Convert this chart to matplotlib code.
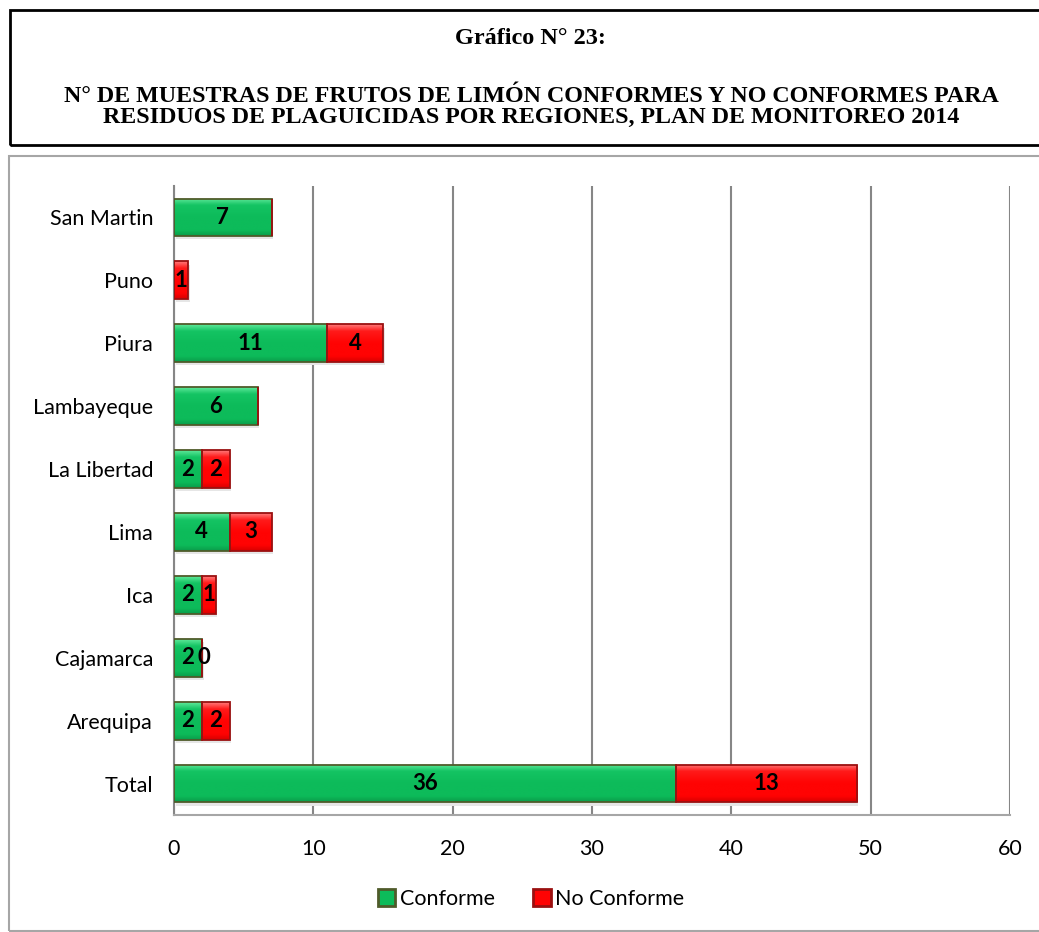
import numpy as np
import matplotlib.pyplot as plt
from matplotlib.patches import Rectangle, Patch
from matplotlib.colors import LinearSegmentedColormap

# data (top to bottom as in the chart)
regions = ["San Martin", "Puno", "Piura", "Lambayeque", "La Libertad",
           "Lima", "Ica", "Cajamarca", "Arequipa", "Total"]
conforme = [7, None, 11, 6, 2, 4, 2, 2, 2, 36]
no_conforme = [None, 1, 4, None, 2, 3, 1, 0, 2, 13]
xticks = [0, 10, 20, 30, 40, 50, 60]

title1 = "Gráfico N° 23:"
title2 = ("N° DE MUESTRAS DE FRUTOS DE LIMÓN CONFORMES Y NO CONFORMES PARA\n"
          "RESIDUOS DE PLAGUICIDAS POR REGIONES, PLAN DE MONITOREO 2014")

W, H = 1039, 932
fig = plt.figure(figsize=(W / 100, H / 100), dpi=100)
lab_font = "Lato"

def fx(px):
    return px / W

def fy(py):
    return 1 - py / H

# title box
fig.patches.append(Rectangle((fx(10), fy(145)), fx(1040 - 10), (145 - 10) / H,
                             transform=fig.transFigure, fill=False,
                             edgecolor="black", linewidth=2))
fig.text(fx(530), fy(38), title1, ha="center", va="center", family="Liberation Serif",
         weight="bold", fontsize=17.5)
fig.text(fx(531), fy(107), title2, ha="center", va="center", family="Liberation Serif",
         weight="bold", fontsize=17.3, linespacing=1.0)

# chart box
fig.patches.append(Rectangle((fx(9), fy(931)), fx(1040 - 9), (931 - 156) / H,
                             transform=fig.transFigure, fill=False,
                             edgecolor="#a6a6a6", linewidth=1.5))

ax = fig.add_axes([fx(174), fy(815), fx(1010 - 174), (815 - 186) / H])

y = np.arange(len(regions))
c_vals = np.array([v if v is not None else 0 for v in conforme], dtype=float)
n_vals = np.array([v if v is not None else 0 for v in no_conforme], dtype=float)

green = "#0dbb5a"
red = "#ff0303"
g_edge = "#4f5b2a"
r_edge = "#9a1010"
h = 0.6

# soft shadows
ax.barh(y + 0.05, c_vals + n_vals, height=h, left=0.12, color="#e6e6e6",
        zorder=2, linewidth=0)
gbars = ax.barh(y, c_vals, height=h, color=green, linewidth=0, zorder=3)
rbars = ax.barh(y, n_vals, height=h, left=c_vals, color=red, linewidth=0, zorder=3)

# bevel-like vertical shading inside each bar
gmap = LinearSegmentedColormap.from_list(
    "g", [(0, "#5fe89a"), (0.18, "#14c463"), (0.5, green), (0.85, green), (1, "#0a9c4a")])
rmap = LinearSegmentedColormap.from_list(
    "r", [(0, "#ff7a7a"), (0.18, "#ff1a1a"), (0.5, red), (0.85, red), (1, "#d80000")])
grad = np.linspace(0, 1, 64).reshape(-1, 1)
for bars, cmap in [(gbars, gmap), (rbars, rmap)]:
    for b in bars:
        if b.get_width() <= 0:
            continue
        x0, y0 = b.get_x(), b.get_y()
        im = ax.imshow(grad, extent=(x0, x0 + b.get_width(), y0 + b.get_height(), y0),
                       cmap=cmap, aspect="auto", origin="upper", zorder=3.5,
                       interpolation="bilinear")
        im.set_clip_path(b)

ax.barh(y, c_vals, height=h, fill=False, edgecolor=g_edge, linewidth=1.3, zorder=4)
ax.barh(y, n_vals, height=h, left=c_vals, fill=False, edgecolor=r_edge,
        linewidth=1.3, zorder=4)

for i in range(len(regions)):
    if conforme[i] is not None:
        ax.text(c_vals[i] / 2, y[i], str(conforme[i]), ha="center", va="center",
                fontsize=16, weight="bold", family=lab_font, zorder=5)
    if no_conforme[i] is not None:
        ax.text(c_vals[i] + n_vals[i] / 2 + (0.15 if n_vals[i] == 0 else 0), y[i],
                str(no_conforme[i]), ha="center", va="center",
                fontsize=16, weight="bold", family=lab_font, zorder=5)

ax.set_ylim(len(regions) - 0.5, -0.5)
ax.set_xlim(0, 60)
ax.set_yticks(y)
ax.set_yticklabels(regions, family=lab_font, fontsize=15.5)
ax.set_xticks(xticks)
ax.set_xticklabels([str(t) for t in xticks], family=lab_font, fontsize=15.5)
ax.tick_params(axis="y", length=0, pad=15)
ax.tick_params(axis="x", length=0, pad=17)
ax.grid(axis="x", color="#868686", linewidth=1.5, zorder=0)
ax.set_axisbelow(True)
for s in ["top", "right"]:
    ax.spines[s].set_visible(False)
ax.spines["left"].set_color("#868686")
ax.spines["left"].set_linewidth(1.5)
ax.spines["bottom"].set_color("#a6a6a6")
ax.spines["bottom"].set_linewidth(1.5)

handles = [Patch(facecolor=green, edgecolor=g_edge, linewidth=2),
           Patch(facecolor=red, edgecolor=r_edge, linewidth=2)]
fig.legend(handles, ["Conforme", "No Conforme"], loc="center",
           bbox_to_anchor=(fx(531), fy(899)), ncol=2, frameon=False,
           prop={"family": lab_font, "size": 15.5},
           handlelength=0.8, handleheight=0.8, handletextpad=0.2, columnspacing=1.8)

fig.savefig("out.png", dpi=100)
